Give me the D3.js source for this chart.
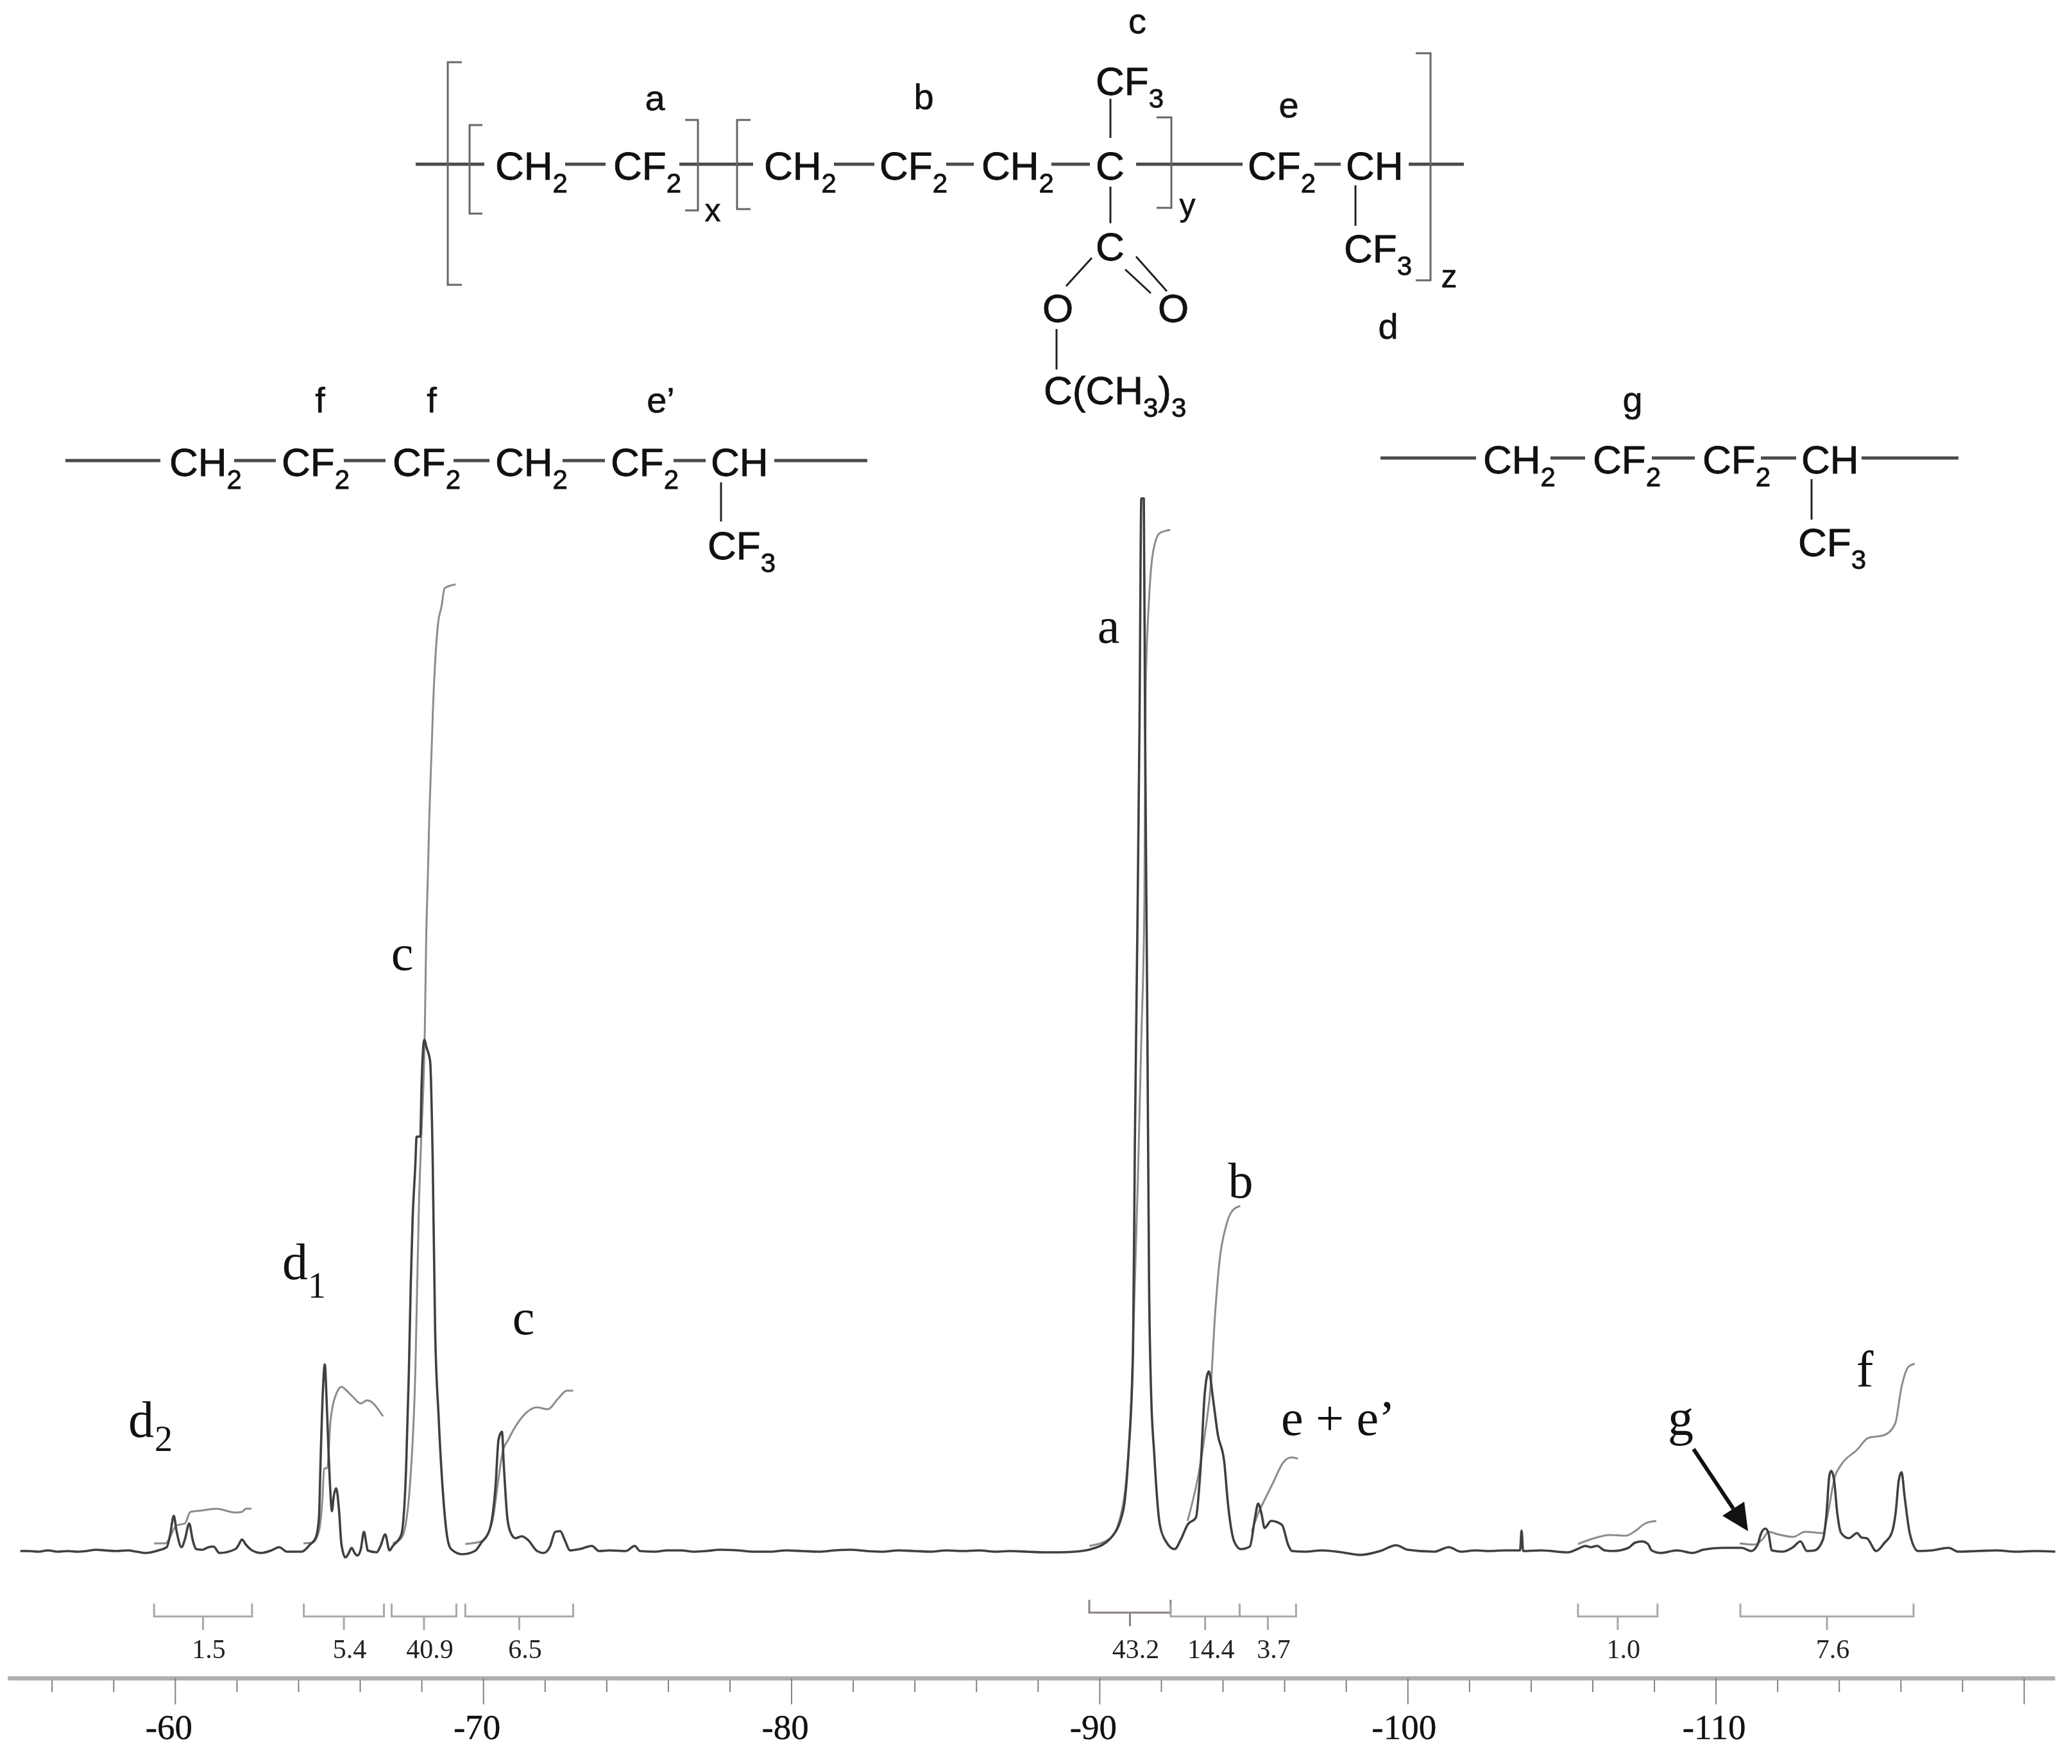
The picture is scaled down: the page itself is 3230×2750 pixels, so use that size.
<!DOCTYPE html>
<html>
<head>
<meta charset="utf-8">
<script src="https://cdn.jsdelivr.net/npm/d3@7"></script>
<style>
  html, body { margin: 0; padding: 0; background: #fff; }
  svg { display: block; filter: blur(0.7px); }
</style>
</head>
<body>
<div id="chart"></div>
<script>
// 19F NMR trace, [ppm, intensity] (intensity 0 = baseline)
var trace = [
  [-54.98,0],[-55.25,0],[-55.57,-1],[-55.88,1],[-56.19,-1],[-56.51,0],[-56.82,-1],[-57.13,0],[-57.44,2],[-57.75,1],
  [-58.07,0],[-58.48,1],[-58.75,-1],[-59.05,-3],[-59.46,1],[-59.73,6],[-59.84,25],[-59.96,55],[-60.05,31],[-60.21,6],
  [-60.32,18],[-60.46,43],[-60.57,18],[-60.69,3],[-60.88,2],[-61.09,6],[-61.25,7],[-61.44,-3],[-61.96,3],[-62.07,10],
  [-62.17,18],[-62.30,10],[-62.50,1],[-62.80,-3],[-63.13,1],[-63.38,6],[-63.63,-1],[-64.11,-1],[-64.38,10],[-64.57,21],
  [-64.67,51],[-64.73,151],[-64.80,251],[-64.86,291],[-64.92,235],[-64.98,158],[-65.05,85],[-65.09,62],[-65.15,85],[-65.23,98],
  [-65.32,65],[-65.40,11],[-65.53,-10],[-65.63,-4],[-65.73,5],[-65.84,-4],[-65.92,-7],[-66.03,3],[-66.13,30],[-66.21,11],
  [-66.25,1],[-66.54,-2],[-66.67,8],[-66.82,26],[-66.96,1],[-67.07,8],[-67.34,25],[-67.50,130],[-67.59,281],[-67.65,415],
  [-67.71,516],[-67.80,603],[-67.84,646],[-67.96,646],[-68.00,723],[-68.09,797],[-68.17,784],[-68.28,763],[-68.36,616],[-68.44,348],
  [-68.55,214],[-68.69,94],[-68.84,20],[-68.96,3],[-69.32,-5],[-69.73,0],[-69.94,13],[-70.21,33],[-70.40,100],[-70.50,174],
  [-70.61,186],[-70.67,134],[-70.78,54],[-70.88,30],[-71.05,20],[-71.25,23],[-71.46,17],[-71.75,0],[-71.96,-3],[-72.17,7],
  [-72.34,30],[-72.50,31],[-72.65,17],[-72.82,1],[-73.13,3],[-73.53,8],[-73.76,0],[-74.11,1],[-74.63,0],[-74.92,8],
  [-75.09,0],[-75.57,-1],[-75.98,1],[-76.40,1],[-76.85,-1],[-77.23,0],[-77.70,2],[-78.27,1],[-78.80,-1],[-79.32,-1],
  [-79.84,1],[-80.36,0],[-80.90,-1],[-81.40,1],[-81.92,2],[-82.44,0],[-82.96,-1],[-83.48,1],[-84.00,0],[-84.52,-1],
  [-85.04,1],[-85.56,0],[-86.10,1],[-86.61,-1],[-87.12,0],[-87.65,-1],[-88.18,-2],[-88.69,-2],[-89.20,-1],[-89.73,3],
  [-90.36,20],[-90.77,63],[-90.94,150],[-91.09,312],
  [-91.15,638],[-91.23,963],[-91.30,1288],[-91.36,1641],[-91.44,1641],[-91.48,1288],[-91.55,855],[-91.61,421],[-91.67,258],[-91.78,150],
  [-91.96,41],[-92.17,14],[-92.44,3],[-92.65,19],[-92.86,41],[-93.13,52],[-93.28,128],[-93.42,247],[-93.55,280],[-93.69,236],
  [-93.84,182],[-94.05,139],[-94.17,74],[-94.38,14],[-94.59,3],[-94.88,7],[-95.05,52],[-95.15,74],[-95.26,58],[-95.36,36],
  [-95.57,47],[-95.92,41],[-96.13,9],[-96.25,0],[-96.67,-1],[-97.23,1],[-97.86,-2],[-98.48,-6],[-99.11,0],[-99.63,9],
  [-100.00,2],[-100.86,-1],[-101.34,6],[-101.73,-1],[-102.20,1],[-102.65,0],[-103.15,1],[-103.65,1],[-103.70,32],[-103.75,0],[-104.32,1],[-105.21,-2],
  [-105.51,3],[-105.78,8],[-105.94,6],[-106.15,8],[-106.40,1],[-106.67,0],[-107.17,5],[-107.38,13],[-107.61,15],[-107.80,11],
  [-107.92,1],[-108.21,-3],[-108.75,1],[-109.25,-3],[-109.59,2],[-110.21,5],[-110.84,5],[-111.15,0],[-111.36,10],[-111.46,26],
  [-111.61,35],[-111.71,28],[-111.82,1],[-112.17,-1],[-112.51,6],[-112.75,15],[-112.96,0],[-113.21,1],[-113.48,18],[-113.59,55],
  [-113.69,118],[-113.75,125],[-113.84,111],[-113.94,61],[-114.07,28],[-114.32,20],[-114.59,28],[-114.73,21],[-114.90,20],[-115.21,0],
  [-115.48,13],[-115.71,28],[-115.84,60],[-115.94,110],[-116.03,123],[-116.13,85],[-116.30,27],[-116.57,0],[-117.02,1],[-117.55,5],
  [-117.88,-1],[-118.48,0],[-119.11,1],[-119.73,-1],[-120.36,0],[-121.02,-1]
];

// integral curves, one per bracket group
var integrals = [
  [[-59.32,12],[-59.69,12],[-60.05,40],[-60.32,43],[-60.50,61],[-60.84,63],[-61.34,66],[-61.96,60],[-62.17,61],[-62.30,66],[-62.48,66]],
  [[-64.17,12],[-64.46,13],[-64.67,31],[-64.78,78],[-64.84,128],[-64.94,130],[-65.05,205],[-65.26,248],[-65.40,256],[-65.57,250],[-65.78,240],[-66.03,230],[-66.23,235],[-66.75,210]],
  [[-67.07,12],[-67.34,20],[-67.48,40],[-67.61,94],[-67.80,281],[-67.92,549],[-67.98,630],[-68.11,822],[-68.15,951],[-68.21,1060],[-68.25,1140],[-68.32,1239],[-68.38,1324],[-68.44,1384],[-68.53,1443],[-68.65,1473],[-68.75,1501],[-69.11,1507]],
  [[-69.42,11],[-69.94,15],[-70.30,47],[-70.50,114],[-70.63,154],[-70.82,174],[-71.25,208],[-71.75,224],[-72.09,221],[-72.44,238],[-72.71,250],[-72.92,250]],
  [[-89.67,8],[-90.36,20],[-90.77,74],[-91.05,258],[-91.25,583],[-91.36,800],[-91.46,1017],[-91.50,1343],[-91.61,1484],[-91.75,1560],[-91.96,1587],[-92.30,1592]],
  [[-92.86,47],[-93.42,182],[-93.63,269],[-93.75,367],[-93.90,453],[-94.11,507],[-94.32,531],[-94.57,538]],
  [[-94.94,30],[-95.19,63],[-95.30,74],[-95.63,106],[-95.98,139],[-96.23,146],[-96.44,144]],
  [[-105.53,11],[-106.13,21],[-106.55,25],[-107.09,24],[-107.38,31],[-107.71,43],[-108.07,47]],
  [[-110.78,12],[-111.25,10],[-111.55,20],[-111.71,30],[-112.02,26],[-112.51,22],[-112.90,30],[-113.48,28],[-113.65,61],[-113.86,115],[-114.05,133],[-114.59,158],[-114.94,176],[-115.48,181],[-115.82,198],[-116.03,256],[-116.25,287],[-116.46,292]]
];

var bracketFrom = [-59.32,-64.18,-67.03,-69.42,-89.67,-92.31,-94.55,-105.53,-110.80];
var bracketTo   = [-62.50,-66.78,-69.13,-72.92,-92.31,-94.55,-96.38,-108.11,-116.42];
var bracketArea = ['1.5','5.4','40.9','6.5','43.2','14.4','3.7','1.0','7.6'];

var minorTicks = [-56,-58,-62,-64,-66,-68,-72,-74,-76,-78,-82,-84,-86,-88,-92,-94,-96,-98,-102,-104,-106,-108,-112,-114,-116,-118];
var majorTicks = [-60,-70,-80,-90,-100,-110,-120];
var majorLabels = ['-60','-70','-80','-90','-100','-110',''];

var width = 3230, height = 2750;
var serif = '"Liberation Serif", serif', sans = '"Liberation Sans", Arial, sans-serif';

var x = d3.scaleLinear().domain([-54.57, -121]).range([12, 3203]);
var y = d3.scaleLinear().domain([0, 1644]).range([2418, 774]);

var svg = d3.select('#chart').append('svg')
  .attr('width', width)
  .attr('height', height);

var line = d3.line()
  .x(function(d){ return x(d[0]); })
  .y(function(d){ return y(d[1]); })
  .curve(d3.curveMonotoneX);

// integrals go under the trace
svg.selectAll('.integral').data(integrals).enter().append('path')
  .attr('class', 'integral')
  .attr('d', line)
  .attr('fill', 'none')
  .attr('stroke', '#8c8c8c')
  .attr('stroke-width', 3);

svg.append('path').datum(trace)
  .attr('d', line)
  .attr('fill', 'none')
  .attr('stroke', '#404040')
  .attr('stroke-width', 3.6)
  .attr('stroke-linejoin', 'round');

// integration brackets under the peaks
var brackets = svg.selectAll('.bracket').data(bracketArea).enter().append('g').attr('class', 'bracket');
brackets.append('path')
  .attr('d', function(d, i){
    var a = x(bracketFrom[i]), b = x(bracketTo[i]), top = i == 4 ? 2494 : 2500, h = 20;
    var mid = (a + b) / 2;
    return 'M' + a + ',' + top + 'V' + (top + h) + 'H' + b + 'V' + top
      + 'M' + mid + ',' + (top + h) + 'V' + (top + h + 21);
  })
  .attr('fill', 'none')
  .attr('stroke', function(d, i){ return i == 4 ? '#8a8085' : '#a8a8a8'; })
  .attr('stroke-width', 3);
brackets.append('text')
  .attr('x', function(d, i){ return (x(bracketFrom[i]) + x(bracketTo[i])) / 2 + 9; })
  .attr('y', 2585)
  .attr('text-anchor', 'middle')
  .attr('font-family', serif)
  .attr('font-size', 42)
  .attr('fill', '#222')
  .text(function(d){ return d; });

// axis
var axisG = svg.append('g').attr('transform', 'translate(0,2616)');
axisG.append('g')
  .call(d3.axisBottom(x).tickValues(minorTicks).tickSize(22).tickSizeOuter(0).tickFormat(''))
  .call(styleAxis);
axisG.append('g')
  .call(d3.axisBottom(x).tickValues(majorTicks).tickSize(41).tickSizeOuter(0)
    .tickFormat(function(d, i){ return majorLabels[i]; }))
  .call(styleAxis)
  .selectAll('text')
    .attr('y', 95)
    .attr('dy', 0)
    .attr('dx', function(d){ return d == -100 ? -6 : d == -110 ? -3 : -10; })
    .attr('font-family', serif)
    .attr('font-size', 55)
    .attr('fill', '#111')
    .attr('stroke', '#111')
    .attr('stroke-width', 0.4);

function styleAxis(g){
  g.attr('font-family', null).attr('font-size', null);
  g.select('.domain').attr('stroke', '#adadad').attr('stroke-width', 6);
  g.selectAll('.tick line').attr('stroke', '#808080').attr('stroke-width', 2);
}

// ---- chemical structures ----
var bonds = [
  [648,256,755,256],[881,256,944,256],[1059,256,1174,256],[1300,256,1363,256],[1475,256,1518,256],[1639,256,1699,256],
  [1771,256,1937,256],[2049,256,2090,256],[2196,256,2282,256],
  [102,718,250,718],[365,718,430,718],[536,718,601,718],[707,718,763,718],[877,718,943,718],[1050,718,1100,718],[1207,718,1352,718],
  [2152,714,2301,714],[2417,714,2471,714],[2575,714,2642,714],[2745,714,2800,714],[2902,714,3053,714]
];
var thinBonds = [
  [1731,154,1731,215],[1731,291,1731,348],[1702,402,1662,446],[1771,400,1819,454],[1754,420,1794,457],[1647,513,1647,576],
  [2113,289,2113,352],[1124,752,1124,813],[2824,747,2824,810]
];
var openBrackets = [[720,698,97,444],[752,732,195,333],[1170,1149,187,326]];
var closeBrackets = [[1068,1088,187,328],[1803,1826,183,324],[2207,2230,83,437]];
var groups = [
  ['CH_2',772,280],['CF_2',956,280],['CH_2',1191,280],['CF_2',1371,280],['CH_2',1530,280],['C',1708,280],['CF_2',1945,280],['CH',2098,280],
  ['CF_3',1708,148],['C',1708,406],['O',1625,502],['O',1805,502],['C(CH_3)_3',1627,630],['CF_3',2095,409],
  ['CH_2',264,742],['CF_2',439,742],['CF_2',612,742],['CH_2',772,742],['CF_2',952,742],['CH',1108,742],['CF_3',1103,872],
  ['CH_2',2312,738],['CF_2',2483,738],['CF_2',2654,738],['CH',2808,738],['CF_3',2803,867]
];
var sansLabels = [
  ['a',1021,172],['b',1440,170],['c',1773,52],['e',2009,183],['d',2164,528],
  ['f',499,643],['f',673,643],['e\u2019',1030,643],['g',2545,642]
];
var subLabels = [['x',1111,345],['y',1851,337],['z',2259,448]];

var chem = svg.append('g');
chem.selectAll('.bond').data(bonds).enter().append('line')
  .attr('x1', function(d){ return d[0]; }).attr('y1', function(d){ return d[1]; })
  .attr('x2', function(d){ return d[2]; }).attr('y2', function(d){ return d[3]; })
  .attr('stroke', '#4a4a4a').attr('stroke-width', 5);
chem.selectAll('.thin').data(thinBonds).enter().append('line')
  .attr('x1', function(d){ return d[0]; }).attr('y1', function(d){ return d[1]; })
  .attr('x2', function(d){ return d[2]; }).attr('y2', function(d){ return d[3]; })
  .attr('stroke', '#222').attr('stroke-width', 3);
chem.selectAll('.sq').data(openBrackets.concat(closeBrackets)).enter().append('path')
  .attr('d', function(d){
    // d[0] = tip of the serif, d[1] = side with the long stroke
    return 'M' + d[0] + ',' + d[2] + 'H' + d[1] + 'V' + d[3] + 'H' + d[0];
  })
  .attr('fill', 'none')
  .attr('stroke', '#666')
  .attr('stroke-width', 3);

chem.selectAll('.group').data(groups).enter().append('text')
  .attr('x', function(d){ return d[1]; })
  .attr('y', function(d){ return d[2]; })
  .attr('font-family', sans)
  .attr('font-size', 62)
  .attr('fill', '#111')
  .attr('stroke', '#111')
  .attr('stroke-width', 0.9)
  .each(function(d){
    var el = d3.select(this), parts = d[0].split(/_(\d)/), down = false;
    parts.forEach(function(p, i){
      if(!p) return;
      var isSub = i % 2 == 1, ts = el.append('tspan').text(p);
      if(isSub){ ts.attr('font-size', 42).attr('dy', 20); down = true; }
      else if(down){ ts.attr('dy', -20); down = false; }
    });
  });

chem.selectAll('.lab').data(sansLabels).enter().append('text')
  .attr('x', function(d){ return d[1]; })
  .attr('y', function(d){ return d[2]; })
  .attr('text-anchor', 'middle')
  .attr('font-family', sans)
  .attr('font-size', 56)
  .attr('fill', '#111')
  .attr('stroke', '#111')
  .attr('stroke-width', 0.6)
  .text(function(d){ return d[0]; });
chem.selectAll('.sub').data(subLabels).enter().append('text')
  .attr('x', function(d){ return d[1]; })
  .attr('y', function(d){ return d[2]; })
  .attr('text-anchor', 'middle')
  .attr('font-family', sans)
  .attr('font-size', 50)
  .attr('fill', '#111')
  .attr('stroke', '#111')
  .attr('stroke-width', 0.6)
  .text(function(d){ return d[0]; });

// ---- peak annotations ----
var peakLabels = [
  ['a',1728,1002,78],['b',1934,1867,78],['c',627,1512,78],['c',816,2080,78],
  ['d',460,1994,80],['1',494,2023,56],['d',220,2240,80],['2',255,2262,56],
  ['e + e\u2019',2086,2237,78],['g',2620,2237,80],['f',2907,2162,80]
];
svg.selectAll('.peak').data(peakLabels).enter().append('text')
  .attr('x', function(d){ return d[1]; })
  .attr('y', function(d){ return d[2]; })
  .attr('text-anchor', 'middle')
  .attr('font-family', serif)
  .attr('font-size', function(d){ return d[3]; })
  .attr('fill', '#111')
  .text(function(d){ return d[0]; });

// arrow to the g peak
svg.append('line')
  .attr('x1', 2640).attr('y1', 2259).attr('x2', 2702).attr('y2', 2352)
  .attr('stroke', '#111').attr('stroke-width', 6);
svg.append('path')
  .attr('d', 'M2725,2387L2685,2363L2719,2341Z')
  .attr('fill', '#111');
</script>
</body>
</html>
